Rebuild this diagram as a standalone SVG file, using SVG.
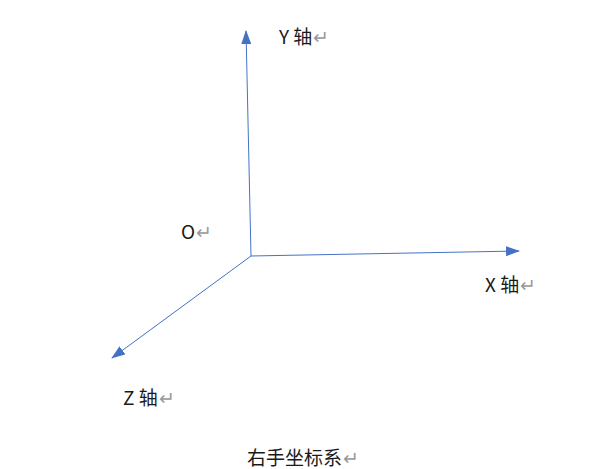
<svg xmlns="http://www.w3.org/2000/svg" width="610" height="469" viewBox="0 0 610 469">
<style>
.ax{stroke:#4472C4;stroke-width:1;fill:none}
.t{font-family:"Noto Sans CJK SC","Liberation Sans",sans-serif;font-size:19px;fill:#1a1a1a}
.r{fill:#999}
</style>
<defs>
<marker id="ahL" markerWidth="14" markerHeight="10" refX="13" refY="5" orient="auto" markerUnits="userSpaceOnUse" viewBox="0 0 14 10">
<path d="M0,0 L14,5 L0,10 Z" fill="#4472C4"/>
</marker>
</defs>
<g id="connectors">
<line class="ax" x1="251" y1="256" x2="246" y2="31" marker-end="url(#ahL)"/>
<line class="ax" x1="251" y1="256" x2="519" y2="251" marker-end="url(#ahL)"/>
<line class="ax" x1="251" y1="256" x2="112" y2="358" marker-end="url(#ahL)"/>
</g>
<g id="label-y"><text class="t" x="279" y="44">Y 轴<tspan class="r" dx="1">↵</tspan></text></g>
<g id="label-o"><text class="t" x="181" y="239">O<tspan class="r" dx="1">↵</tspan></text></g>
<g id="label-x"><text class="t" x="485" y="292">X 轴<tspan class="r" dx="1">↵</tspan></text></g>
<g id="label-z"><text class="t" x="123" y="405">Z 轴<tspan class="r" dx="1">↵</tspan></text></g>
<g id="caption"><text class="t" x="247" y="465">右手坐标系<tspan class="r" dx="1">↵</tspan></text></g>
</svg>
